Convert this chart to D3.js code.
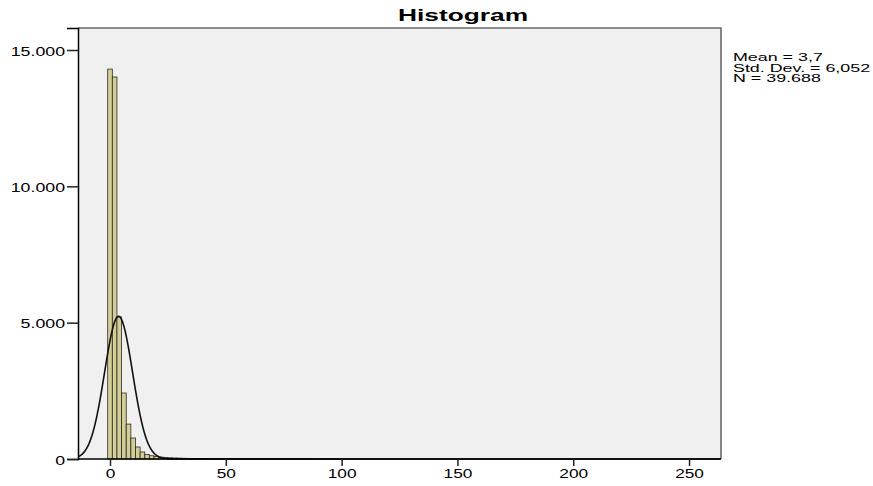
<!DOCTYPE html>
<html>
<head>
<meta charset="utf-8">
<script src="https://cdn.jsdelivr.net/npm/d3@7"></script>
<style>
  html, body { margin: 0; padding: 0; background: #fff; }
  svg { display: block; }
  text { font-family: "Liberation Sans", Arial, sans-serif; fill: #000; }
</style>
</head>
<body>
<svg id="chart" width="873" height="486"></svg>
<script>
// ---- Data ----
const binStart = -1;      // left edge of the first bin
const binWidth = 2;       // width of each bin
const binCounts = [14300, 14010, 5210, 2420, 1280, 770, 440, 257, 165,
  120, 90, 70, 55, 45, 38, 32, 27, 23, 20, 17, 15, 13, 11, 10, 9, 8, 7, 6, 6,
  5, 5, 4, 4, 4, 3, 3, 3, 3, 2, 2, 2, 2, 2, 1, 1, 1, 1, 1, 1, 1];
const xTicks = [0, 50, 100, 150, 200, 250];
const yTicks = [0, 5000, 10000, 15000];
const yTickLabels = ["0", "5.000", "10.000", "15.000"];
const statsLines = ["Mean = 3,7", "Std. Dev. = 6,052", "N = 39.688"];
const mean = 3.7, sd = 6.052, n = 39688;
const title = "Histogram";

// ---- Layout ----
const svg = d3.select("#chart");
const L = 78, R = 721, T = 28, B = 459;

const x = d3.scaleLinear().domain([-13.82, 263.8]).range([L, R]);
const y = d3.scaleLinear().domain([0, 15807]).range([B, T]);

// background panel
svg.append("rect").attr("x", L).attr("y", T).attr("width", R - L).attr("height", B - T)
  .attr("fill", "#f0f0f0");

// bars
const bins = binCounts.map((c, i) => ({ x0: binStart + i * binWidth, x1: binStart + (i + 1) * binWidth, c }));
svg.append("g").selectAll("rect").data(bins).join("rect")
  .attr("x", d => x(d.x0))
  .attr("width", d => x(d.x1) - x(d.x0))
  .attr("y", d => y(d.c))
  .attr("height", d => B - y(d.c))
  .attr("fill", "#d3ce97")
  .attr("stroke", "#2b2b20")
  .attr("stroke-width", 0.8);

// normal curve
const xs = d3.range(-13.8, 263.8, 0.1);
const pdf = v => n * binWidth * Math.exp(-0.5 * ((v - mean) / sd) ** 2) / (sd * Math.sqrt(2 * Math.PI));
svg.append("path")
  .datum(xs)
  .attr("d", d3.line().x(d => x(d)).y(d => y(pdf(d))).curve(d3.curveLinear))
  .attr("fill", "none").attr("stroke", "#111").attr("stroke-width", 1.6);

// frame: top and right gray
svg.append("path")
  .attr("d", `M${L},${T}H${R}V${B}`)
  .attr("fill", "none").attr("stroke", "#6a6a6a").attr("stroke-width", 1.6);

// axes
const yAxis = d3.axisLeft(y).tickValues(yTicks).tickSize(11).tickPadding(2)
  .tickFormat((d, i) => yTickLabels[i]);
const gy = svg.append("g").attr("transform", `translate(${L},0)`).call(yAxis);
gy.select(".domain").attr("stroke", "#000").attr("stroke-width", 1.5);
gy.selectAll(".tick line").attr("stroke", "#222").attr("stroke-width", 1.5);
gy.selectAll(".tick text").attr("font-size", 12.5)
  .attr("font-family", "'Liberation Sans', Arial, sans-serif")
  .attr("dy", "0.4em")
  .each(function () {
    const t = d3.select(this);
    const w = this.getComputedTextLength();
    t.attr("textLength", w * 1.42).attr("lengthAdjust", "spacingAndGlyphs");
  });

const xAxis = d3.axisBottom(x).tickValues(xTicks).tickSize(7).tickPadding(3)
  .tickFormat(d3.format("d"));
const gx = svg.append("g").attr("transform", `translate(0,${B})`).call(xAxis);
gx.select(".domain").attr("d", `M${L},0H${R}`).attr("stroke", "#000").attr("stroke-width", 1.5);
gx.selectAll(".tick line").attr("stroke", "#222").attr("stroke-width", 1.5);
gx.selectAll(".tick text").attr("font-size", 12.5)
  .attr("font-family", "'Liberation Sans', Arial, sans-serif")
  .each(function () {
    const t = d3.select(this);
    const w = this.getComputedTextLength();
    t.attr("textLength", w * 1.38).attr("lengthAdjust", "spacingAndGlyphs");
  });

// title
const tt = svg.append("text").attr("x", 463).attr("y", 21).attr("text-anchor", "middle")
  .attr("font-size", 16).attr("font-weight", "bold").text(title);
tt.attr("textLength", 130).attr("lengthAdjust", "spacingAndGlyphs");

// stats
const stat = svg.append("g");
statsLines.forEach((s, i) => {
  const t = stat.append("text").attr("x", 733).attr("y", 61 + i * 10.5)
    .attr("font-size", 10.5).text(s);
  const w = t.node().getComputedTextLength();
  t.attr("textLength", w * 1.7).attr("lengthAdjust", "spacingAndGlyphs");
});
</script>
</body>
</html>
